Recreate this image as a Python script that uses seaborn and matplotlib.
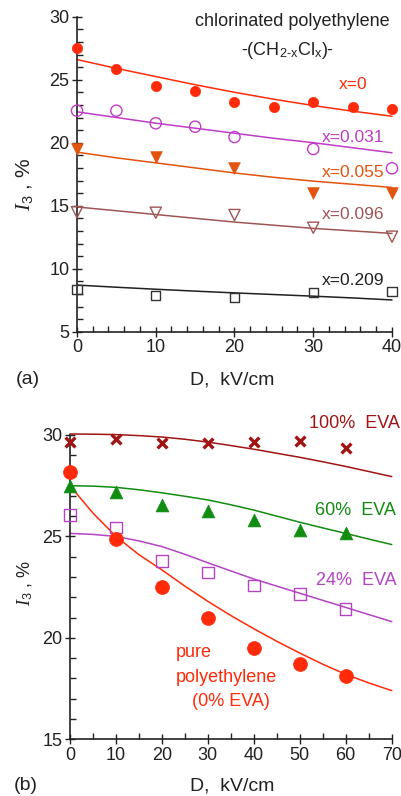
import numpy as np
import pandas as pd
import matplotlib
matplotlib.use('Agg')
import matplotlib.pyplot as plt
import seaborn as sns
from matplotlib.ticker import MultipleLocator

sns.set_style('ticks')
plt.rcParams['font.family'] = ['Liberation Sans', 'DejaVu Sans']
plt.rcParams['mathtext.fontset'] = 'custom'
plt.rcParams['mathtext.rm'] = 'Liberation Sans'
plt.rcParams['mathtext.it'] = 'Liberation Serif:italic'

# ---- panel (a): chlorinated polyethylene ----
d_a = [0, 5, 10, 15, 20, 25, 30, 35, 40]
d_a10 = [0, 10, 20, 30, 40]
x0_pts = [27.5, 25.85, 24.52, 24.13, 23.25, 22.86, 23.21, 22.86, 22.65]
x031_pts = [22.54, 22.54, 21.54, 21.27, 20.45, 19.5, 17.97]
x031_d = [0, 5, 10, 15, 20, 30, 40]
x055_pts = [19.5, 18.84, 17.97, 16.03, 16.03]
x096_pts = [14.48, 14.44, 14.26, 13.25, 12.54]
x209_pts = [8.31, 7.91, 7.73, 8.13, 8.23]

# fitted curves read at D = 0, 5, ..., 40
x0_fit = [26.6, 25.9, 25.25, 24.6, 24.0, 23.45, 22.95, 22.5, 22.1]
x031_fit = [22.45, 22.0, 21.55, 21.15, 20.75, 20.35, 20.0, 19.6, 19.2]
x055_fit = [19.25, 18.8, 18.4, 18.0, 17.6, 17.25, 16.95, 16.7, 16.45]
x096_fit = [14.9, 14.6, 14.3, 14.0, 13.7, 13.45, 13.2, 13.0, 12.8]
x209_fit = [8.7, 8.53, 8.37, 8.22, 8.08, 7.95, 7.82, 7.68, 7.52]

# ---- panel (b): EVA blends ----
d_b = [0, 10, 20, 30, 40, 50, 60]
eva100_pts = [29.67, 29.79, 29.59, 29.59, 29.64, 29.7, 29.38]
eva60_pts = [27.49, 27.2, 26.55, 26.27, 25.81, 25.32, 25.19]
eva24_pts = [26.06, 25.45, 23.79, 23.23, 22.57, 22.16, 21.42]
eva0_pts = [28.19, 24.87, 22.49, 20.97, 19.49, 18.71, 18.12]

# fitted curves read at D = 0, 5, ..., 70
d_bfit = [0, 5, 10, 15, 20, 25, 30, 35, 40, 45, 50, 55, 60, 65, 70]
eva100_fit = [30.05, 30.04, 30.02, 29.97, 29.9, 29.79, 29.65, 29.48, 29.3,
              29.1, 28.9, 28.68, 28.45, 28.2, 27.95]
eva60_fit = [27.5, 27.48, 27.42, 27.3, 27.15, 26.98, 26.8, 26.56, 26.3,
             26.0, 25.7, 25.42, 25.15, 24.87, 24.6]
eva24_fit = [25.15, 25.1, 25.0, 24.78, 24.5, 24.12, 23.7, 23.3, 22.9,
             22.55, 22.2, 21.85, 21.5, 21.15, 20.8]
eva0_fit = [27.5, 26.15, 25.0, 24.1, 23.35, 22.55, 21.8, 21.1, 20.45,
            19.83, 19.25, 18.7, 18.2, 17.78, 17.4]

c_red = '#ff2a0a'
c_purple = '#c03cc8'
c_orange = '#e2540e'
c_brown = '#a05555'
c_black = '#202020'
c_dred = '#a01414'
c_green = '#108c10'
c_violet = '#b444c4'

W, H = 402, 796
fig = plt.figure(figsize=(W / 100, H / 100), dpi=100)
ax_a = fig.add_axes([77 / W, 1 - 331.7 / H, 315 / W, 315 / H])
ax_b = fig.add_axes([70 / W, 1 - 739.3 / H, 321.7 / W, 304.3 / H])


def style_axis(ax, xmin, xmax, ymin, ymax, xmaj, xmin_step, ymaj):
    ax.set_xlim(xmin, xmax)
    ax.set_ylim(ymin, ymax)
    sns.despine(ax=ax)
    ax.xaxis.set_major_locator(MultipleLocator(xmaj))
    ax.xaxis.set_minor_locator(MultipleLocator(xmin_step))
    ax.yaxis.set_major_locator(MultipleLocator(ymaj))
    ax.yaxis.set_minor_locator(MultipleLocator(1))
    ax.tick_params(which='major', direction='inout', length=7, width=1,
                   labelsize=13, colors='#222222', pad=2)
    ax.tick_params(which='minor', direction='in', length=4, width=1,
                   colors='#222222')
    for s in ['left', 'bottom']:
        ax.spines[s].set_linewidth(1.2)
        ax.spines[s].set_color('#222222')
    ax.set_xlabel('')
    ax.set_ylabel('')
    ax.set_facecolor('white')


def curve(ax, d, v, col):
    sns.lineplot(x=d, y=v, ax=ax, color=col, lw=1.1, clip_on=False,
                 errorbar=None)


def pts(ax, d, v, col, marker, s, filled=True, lw=1.0):
    if filled:
        sns.scatterplot(x=d, y=v, ax=ax, color=col, marker=marker, s=s,
                        edgecolor=col, linewidth=lw, zorder=3, clip_on=False)
    else:
        sns.scatterplot(x=d, y=v, ax=ax, marker=marker, s=s,
                        facecolor='none', edgecolor=col, linewidth=lw,
                        zorder=3, clip_on=False)


# panel (a)
curve(ax_a, d_a, x0_fit, c_red)
curve(ax_a, d_a, x031_fit, c_purple)
curve(ax_a, d_a, x055_fit, c_orange)
curve(ax_a, d_a, x096_fit, c_brown)
curve(ax_a, d_a, x209_fit, c_black)
pts(ax_a, d_a, x0_pts, c_red, 'o', 55, lw=0.5)
pts(ax_a, x031_d, x031_pts, c_purple, 'o', 65, filled=False)
pts(ax_a, d_a10, x055_pts, c_orange, 'v', 70, lw=0.5)
pts(ax_a, d_a10, x096_pts, c_brown, 'v', 65, filled=False)
pts(ax_a, d_a10, x209_pts, '#333333', 's', 42, filled=False)
style_axis(ax_a, 0, 40, 5, 30, 10, 2, 5)

ax_a.text(27.3, 29.58, 'chlorinated polyethylene', ha='center', va='center',
          fontsize=13, color='#222222')
ax_a.text(26.7, 27.3, r'-(CH$_{\mathrm{2\text{-}x}}$Cl$_{\mathrm{x}}$)-',
          ha='center', va='center', fontsize=13, color='#222222')
ax_a.text(35.0, 24.58, 'x=0', ha='center', va='center', fontsize=12.5, color=c_red)
ax_a.text(35.0, 20.45, 'x=0.031', ha='center', va='center', fontsize=12.5, color=c_purple)
ax_a.text(35.0, 17.67, 'x=0.055', ha='center', va='center', fontsize=12.5, color=c_orange)
ax_a.text(35.0, 14.34, 'x=0.096', ha='center', va='center', fontsize=12.5, color=c_brown)
ax_a.text(35.0, 9.1, 'x=0.209', ha='center', va='center', fontsize=12.5, color=c_black)

# panel (b)
curve(ax_b, d_bfit, eva100_fit, c_dred)
curve(ax_b, d_bfit, eva60_fit, c_green)
curve(ax_b, d_bfit, eva24_fit, c_violet)
curve(ax_b, d_bfit, eva0_fit, c_red)
pts(ax_b, d_b, eva100_pts, c_dred, 'x', 50, lw=2.4)
pts(ax_b, d_b, eva60_pts, c_green, '^', 85, lw=0.5)
pts(ax_b, d_b, eva24_pts, c_violet, 's', 68, filled=False)
pts(ax_b, d_b, eva0_pts, c_red, 'o', 100, lw=0.5)
style_axis(ax_b, 0, 70, 15, 30, 10, 5, 5)

ax_b.text(62, 30.59, '100%  EVA', ha='center', va='center', fontsize=13, color=c_dred)
ax_b.text(62.2, 26.3, '60%  EVA', ha='center', va='center', fontsize=13, color=c_green)
ax_b.text(62.2, 22.85, '24%  EVA', ha='center', va='center', fontsize=13, color=c_violet)
ax_b.text(23.1, 19.26, 'pure', ha='left', va='center', fontsize=13, color=c_red)
ax_b.text(23.1, 18.07, 'polyethylene', ha='left', va='center', fontsize=13, color=c_red)
ax_b.text(35.0, 16.84, '(0% EVA)', ha='center', va='center', fontsize=13, color=c_red)

# axis labels placed in figure pixels
def ftext(px, py, s, **kw):
    fig.text(px / W, 1 - py / H, s, **kw)

ftext(232, 380, 'D,  kV/cm', ha='center', va='center', fontsize=14, color='#222222')
ftext(16, 380, '(a)', ha='left', va='center', fontsize=14, color='#222222')
ftext(232, 786, 'D,  kV/cm', ha='center', va='center', fontsize=14, color='#222222')
ftext(14, 786, '(b)', ha='left', va='center', fontsize=14, color='#222222')
ftext(25, 185, r'$I_3$ , %', ha='center', va='center', rotation=90,
      fontsize=15, color='#222222')
ftext(25, 583, r'$I_3$ , %', ha='center', va='center', rotation=90,
      fontsize=13, color='#222222')

fig.savefig('out.png', dpi=100, facecolor='white')
